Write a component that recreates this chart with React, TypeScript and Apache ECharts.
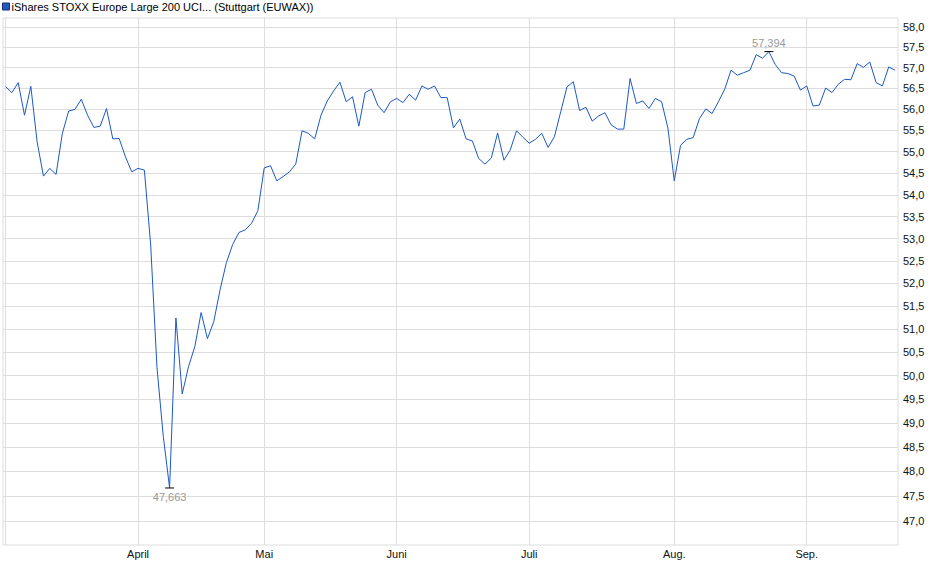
import { useEffect, useRef } from "react";
import * as echarts from "echarts";

const seriesName = "iShares STOXX Europe Large 200 UCI... (Stuttgart (EUWAX))";

// month names for the x axis (first month has no label in the chart)
const monthNames = ["März", "April", "Mai", "Juni", "Juli", "Aug.", "Sep."];

// closing prices per trading day, one array per month
const march = [
  56.54, 56.4, 56.64, 55.86, 56.55, 55.23, 54.43, 54.61, 54.47, 55.43, 55.96,
  56.0, 56.24, 55.86, 55.57, 55.6, 56.02, 55.3, 55.31, 54.88, 54.53,
];
const april = [
  54.61, 54.57, 52.86, 50.17, 48.72, 47.663, 51.24, 49.61, 50.19, 50.62, 51.36,
  50.79, 51.16, 51.86, 52.46, 52.87, 53.14, 53.2, 53.35, 53.64,
];
const may = [
  54.62, 54.67, 54.32, 54.42, 54.53, 54.71, 55.49, 55.43, 55.3, 55.86, 56.2,
  56.44, 56.65, 56.18, 56.3, 55.6, 56.4, 56.48, 56.1, 55.92, 56.18,
];
const june = [
  56.26, 56.16, 56.36, 56.22, 56.56, 56.48, 56.56, 56.28, 56.28, 55.56, 55.77,
  55.3, 55.25, 54.84, 54.71, 54.85, 55.44, 54.8, 55.04, 55.49, 55.34,
];
const july = [
  55.2, 55.29, 55.43, 55.1, 55.35, 55.94, 56.54, 56.66, 55.97, 56.05, 55.72,
  55.84, 55.92, 55.63, 55.53, 55.53, 56.74, 56.14, 56.2, 56.02, 56.26, 56.18,
  55.55,
];
const august = [
  54.32, 55.15, 55.29, 55.33, 55.78, 56.01, 55.9, 56.18, 56.48, 56.94, 56.82,
  56.88, 56.94, 57.32, 57.23, 57.394, 57.08, 56.88, 56.86, 56.8, 56.46,
];
const september = [
  56.56, 56.08, 56.1, 56.51, 56.4, 56.6, 56.72, 56.71, 57.1, 57.01, 57.14,
  56.64, 56.56, 57.02, 56.94,
];

// right-hand axis tick labels (log scale)
const yTicks = [
  47.0, 47.5, 48.0, 48.5, 49.0, 49.5, 50.0, 50.5, 51.0, 51.5, 52.0, 52.5, 53.0,
  53.5, 54.0, 54.5, 55.0, 55.5, 56.0, 56.5, 57.0, 57.5, 58.0,
];
const yMin = 46.52;
const yMax = 58.22;

const months = [march, april, may, june, july, august, september];
const FONT = "'Liberation Sans', Arial, sans-serif";
const LINE = "#1c58c4";
const GRID = "#dddddd";

function buildOption(): echarts.EChartsOption {
  const starts: number[] = [];
  let n = 0;
  for (const m of months) {
    starts.push(n);
    n += m.length;
  }
  const values = months.flat();
  // the chart uses a logarithmic price scale: plot ln(price) on a linear axis
  const points = values.map((v, i) => [i, Math.log(v)]);
  const fmt = (v: number, d: number) => v.toFixed(d).replace(".", ",");

  return {
    animation: false,
    textStyle: { fontFamily: FONT },
    legend: {
      data: [seriesName],
      left: 2,
      top: 1,
      padding: 0,
      icon: "rect",
      itemWidth: 7,
      itemHeight: 7,
      itemStyle: { color: "#2158c2", borderColor: "#1a2f70", borderWidth: 1 },
      textStyle: { fontSize: 11, color: "#000", fontFamily: FONT, padding: [3, 0, 0, -3] },
    },
    grid: {
      left: 3,
      right: 42,
      top: 18,
      bottom: 34,
      show: true,
      borderColor: GRID,
      borderWidth: 1,
    },
    xAxis: {
      type: "value",
      min: -0.41,
      max: 141.47,
      axisLine: { show: false },
      axisTick: { show: false, customValues: starts },
      splitLine: { show: true, lineStyle: { color: GRID, width: 1 } },
      axisLabel: {
        customValues: starts.slice(1),
        margin: 3,
        fontSize: 11,
        color: "#111",
        fontFamily: FONT,
        formatter: (v: number) => monthNames[starts.indexOf(Math.round(v))] ?? "",
      },
    },
    yAxis: {
      type: "value",
      position: "right",
      min: Math.log(yMin),
      max: Math.log(yMax),
      axisLine: { show: false },
      axisTick: { show: false, customValues: yTicks.map(Math.log) },
      splitLine: { show: true, lineStyle: { color: GRID, width: 1 } },
      axisLabel: {
        customValues: yTicks.map(Math.log),
        margin: 5,
        fontSize: 11,
        color: "#111",
        fontFamily: FONT,
        formatter: (v: number) => fmt(Math.exp(v), 1),
      },
    },
    series: [
      {
        name: seriesName,
        type: "line",
        data: points,
        showSymbol: false,
        color: LINE,
        lineStyle: { color: LINE, width: 1 },
        markPoint: {
          symbol: "rect",
          symbolSize: [9, 1],
          itemStyle: { color: "#000" },
          label: {
            show: true,
            color: "#9a9a9a",
            fontSize: 11,
            fontFamily: FONT,
            formatter: (p: any) => fmt(Math.exp(p.value), 3),
          },
          data: [
            { type: "max", valueDim: "y", label: { position: "top", distance: 3 } },
            { type: "min", valueDim: "y", label: { position: "bottom", distance: 3 } },
          ],
        },
      },
    ],
  };
}

export default function App() {
  const ref = useRef<HTMLDivElement>(null);

  useEffect(() => {
    if (!ref.current) return;
    const chart = echarts.init(ref.current, null, { renderer: "svg" });
    chart.setOption(buildOption());
    return () => chart.dispose();
  }, []);

  return (
    <div
      ref={ref}
      style={{ position: "fixed", left: 0, top: 0, width: 940, height: 579, background: "#fff" }}
    />
  );
}
